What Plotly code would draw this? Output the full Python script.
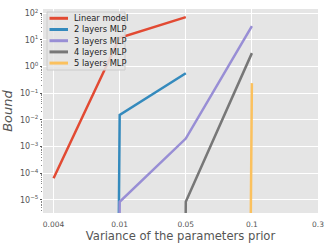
import plotly.graph_objects as go

categories = ["0.004", "0.01", "0.05", "0.1", "0.3"]
TINY = 1e-300  # effectively zero (bound vanishes), drawn off-scale like the original
linear_model = [6.5e-5, 12.0, 72.0, None, None]
mlp_2 = [TINY, 0.0155, 0.56, None, None]
mlp_3 = [TINY, 8.5e-6, 0.0020, 33.0, None]
mlp_4 = [TINY, TINY, 8.5e-6, 3.2, None]
mlp_5 = [TINY, TINY, TINY, 0.24, None]
y_exponents = [-5, -4, -3, -2, -1, 0, 1, 2]

series = [
    ("Linear model", linear_model, "#E24A33"),
    ("2 layers MLP", mlp_2, "#348ABD"),
    ("3 layers MLP", mlp_3, "#988ED5"),
    ("4 layers MLP", mlp_4, "#777777"),
    ("5 layers MLP", mlp_5, "#FBC15E"),
]

W, H = 330, 246
L, R, T, B = 43, 12, 9, 33
pw, ph = W - L - R, H - T - B


def px2paper(x, y):
    return (x - L) / pw, (H - B - y) / ph


fig = go.Figure()
for name, vals, color in series:
    fig.add_trace(go.Scatter(
        x=categories, y=vals, name=name, mode="lines",
        line=dict(color=color, width=2.5), connectgaps=False,
        showlegend=False, hoverinfo="skip",
    ))

# custom legend (matplotlib-style compact legend)
shapes = []
annotations = []
bx0, by0 = px2paper(47, 12)
bx1, by1 = px2paper(125, 70)
shapes.append(dict(type="rect", xref="paper", yref="paper", x0=bx0, x1=bx1, y0=by1, y1=by0,
                   fillcolor="rgba(229,229,229,0.85)", line=dict(color="#CCCCCC", width=1), layer="above"))
for i, (name, vals, color) in enumerate(series):
    yc = 18.3 + i * 11.2
    lx0, ly = px2paper(49.5, yc)
    lx1, _ = px2paper(68, yc)
    shapes.append(dict(type="line", xref="paper", yref="paper", x0=lx0, x1=lx1, y0=ly, y1=ly,
                       line=dict(color=color, width=3), layer="above"))
    tx, _ = px2paper(72, yc)
    annotations.append(dict(xref="paper", yref="paper", x=tx, y=ly, text=name, showarrow=False,
                            xanchor="left", yanchor="middle", font=dict(size=8.3, color="#222222")))

fig.update_layout(
    width=W, height=H,
    margin=dict(l=L, r=R, t=T, b=B, autoexpand=False),
    paper_bgcolor="white", plot_bgcolor="#E5E5E5",
    font=dict(family="DejaVu Sans", color="#555555"),
    showlegend=False,
    shapes=shapes, annotations=annotations,
)
fig.update_xaxes(
    type="category", range=[-0.16, 4.0], automargin=False,
    showgrid=True, gridcolor="white", gridwidth=1,
    ticks="outside", ticklen=4, tickcolor="rgba(0,0,0,0)",
    tickfont=dict(size=7.5, color="#555555"),
    title=dict(text="Variance of the parameters prior", font=dict(size=11.6, color="#555555"), standoff=2),
    showline=False, zeroline=False,
)
fig.update_yaxes(
    type="log", range=[-5.49, 2.16], automargin=False,
    tickmode="array",
    tickvals=[10.0 ** e for e in y_exponents],
    ticktext=["10<sup>%s</sup>" % (str(e).replace("-", "\u2212")) for e in y_exponents],
    showgrid=True, gridcolor="white", gridwidth=1,
    ticks="outside", ticklen=2, tickcolor="#555555",
    tickfont=dict(size=8, color="#555555"),
    minor=dict(ticks="outside", ticklen=1.5, tickcolor="#888888", showgrid=False,
               tickmode="array", tickvals=[m * 10.0 ** e for e in range(-6, 3) for m in range(2, 10)]),
    title=dict(text="<i>Bound</i>", font=dict(size=13, color="#555555"), standoff=10),
    showline=False, zeroline=False,
)

fig.write_html("out.html", config={"displayModeBar": False},
               post_script="document.body.style.margin='0';")
